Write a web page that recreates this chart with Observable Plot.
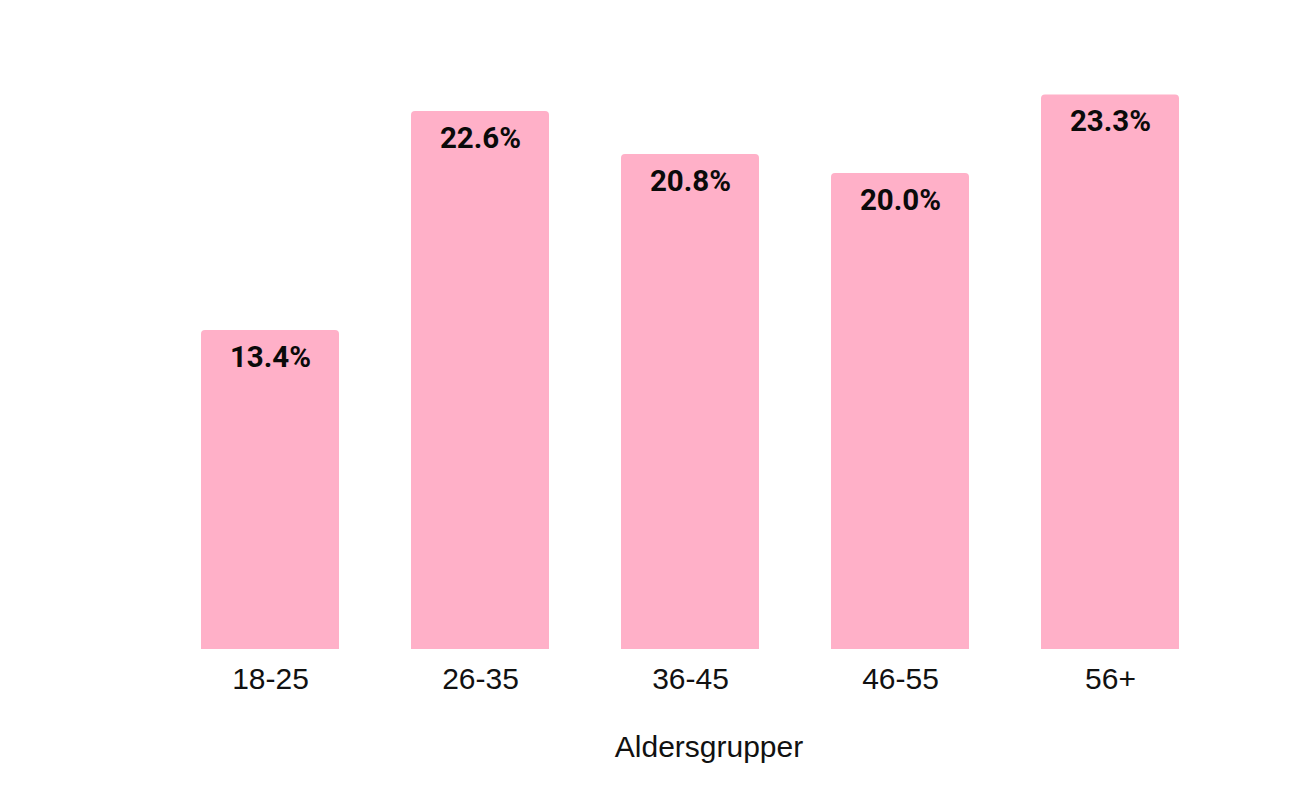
<!DOCTYPE html>
<html>
<head>
<meta charset="utf-8">
<script src="https://cdn.jsdelivr.net/npm/d3@7"></script>
<script src="https://cdn.jsdelivr.net/npm/@observablehq/plot@0.6"></script>
<style>
  html, body { margin: 0; padding: 0; background: #fff; }
  #chart svg { display: block; }
</style>
</head>
<body>
<div id="chart"></div>
<script>
const categories = ["18-25", "26-35", "36-45", "46-55", "56+"];
const values = [13.4, 22.6, 20.8, 20.0, 23.3];
const axisTitle = "Aldersgrupper";

const data = categories.map((c, i) => ({group: c, value: values[i]}));
const fmt = v => d3.format(".1f")(v) + "%";

const chart = Plot.plot({
  width: 1295,
  height: 800,
  marginLeft: 126,
  marginRight: 42,
  marginTop: 54,
  marginBottom: 151,
  style: {fontFamily: "'Liberation Sans', Arial, sans-serif", background: "#fff"},
  x: {domain: categories, paddingInner: 0.344, paddingOuter: 0.35, label: null},
  y: {domain: [0, 25], axis: null},
  marks: [
    Plot.barY(data, {x: "group", y: "value", fill: "#ffb0c8", ry1: 4}),
    Plot.text(data, {
      x: "group", y: "value", text: d => fmt(d.value), dy: 27,
      fontSize: 29.5, fontWeight: "bold", fontFamily: "Roboto, sans-serif", fill: "#0a0a0a"
    }),
    Plot.axisX({tickSize: 0, tickPadding: 18, fontSize: 30, label: null, color: "#111"}),
    Plot.text([axisTitle], {
      text: d => d, frameAnchor: "bottom", dx: 19, dy: 107,
      fontSize: 30, fill: "#111"
    })
  ]
});
document.getElementById("chart").appendChild(chart);
</script>
</body>
</html>
